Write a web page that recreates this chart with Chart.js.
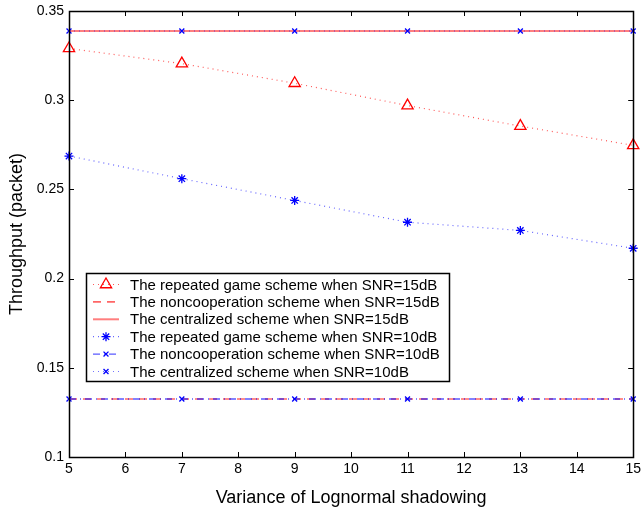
<!DOCTYPE html>
<html>
<head>
<meta charset="utf-8">
<script src="https://cdn.jsdelivr.net/npm/chart.js@4/dist/chart.umd.min.js"></script>
<style>
  html, body { margin: 0; padding: 0; background: #fff; }
  #wrap { width: 641px; height: 509px; }
</style>
</head>
<body>
<div id="wrap"><canvas id="thr" width="641" height="509"></canvas></div>
<script>
// variance values on x axis
const variance = [5, 7, 9, 11, 13, 15];

// SNR = 15dB
const repeated15 = [0.329, 0.3205, 0.3095, 0.297, 0.2855, 0.2747];
const noncoop15 = [0.1325, 0.1325, 0.1325, 0.1325, 0.1325, 0.1325];
const central15 = [0.3388, 0.3388, 0.3388, 0.3388, 0.3388, 0.3388];

// SNR = 10dB
const repeated10 = [0.2687, 0.256, 0.2438, 0.2316, 0.227, 0.217];
const noncoop10 = [0.1325, 0.1325, 0.1325, 0.1325, 0.1325, 0.1325];
const central10 = [0.3388, 0.3388, 0.3388, 0.3388, 0.3388, 0.3388];

const yTicks = [0.1, 0.15, 0.2, 0.25, 0.3, 0.35];
const xTicks = [5, 6, 7, 8, 9, 10, 11, 12, 13, 14, 15];

const legendLabels = [
  'The repeated game scheme when SNR=15dB',
  'The noncooperation scheme when SNR=15dB',
  'The centralized scheme when SNR=15dB',
  'The repeated game scheme when SNR=10dB',
  'The noncooperation scheme when SNR=10dB',
  'The centralized scheme when SNR=10dB'
];

const RED = 'rgb(255,0,0)';
const BLUE = 'rgb(0,0,255)';
const FONT = 'Liberation Sans, Arial, sans-serif';

function pts(arr) {
  return arr.map((v, i) => ({ x: variance[i], y: v }));
}

function series(label, data, color, lineColor, dash, width, style, radius, order) {
  return {
    label: label,
    data: pts(data),
    borderColor: lineColor,
    borderDash: dash,
    borderWidth: width,
    pointStyle: style,
    pointRadius: radius,
    pointBorderColor: color,
    pointBackgroundColor: style === 'triangle' ? 'rgba(255,255,255,0)' : color,
    pointBorderWidth: 1.3,
    fill: false,
    tension: 0,
    clip: 8,
    order: order
  };
}

const datasets = [
  series(legendLabels[0], repeated15, RED, 'rgba(255,0,0,0.65)', [1, 4], 1.2, 'triangle', 6.5, 1),
  series(legendLabels[1], noncoop15, RED, 'rgba(255,0,0,0.6)', [8, 6], 1.6, false, 0, 2),
  series(legendLabels[2], central15, RED, 'rgba(255,40,40,0.6)', [], 2, false, 0, 2),
  series(legendLabels[3], repeated10, BLUE, 'rgba(0,0,255,0.6)', [1, 4], 1.2, 'star', 4.5, 0),
  series(legendLabels[4], noncoop10, BLUE, 'rgba(0,0,255,0.65)', [7, 4, 1, 4], 1.4, 'crossRot', 3.5, 0),
  series(legendLabels[5], central10, BLUE, 'rgba(0,0,255,0.55)', [1, 4], 1.2, 'crossRot', 3.5, 0)
];

// draws the box, inward ticks and the legend inside the plot
const matlabFrame = {
  id: 'matlabFrame',
  afterDraw(chart) {
    const ctx = chart.ctx;
    const a = chart.chartArea;
    const xs = chart.scales.x;
    const ys = chart.scales.y;
    ctx.save();
    ctx.strokeStyle = '#000';
    ctx.lineWidth = 1;
    xTicks.forEach(t => {
      const px = Math.round(xs.getPixelForValue(t)) + 0.5;
      ctx.beginPath();
      ctx.moveTo(px, a.bottom); ctx.lineTo(px, a.bottom - 5);
      ctx.moveTo(px, a.top); ctx.lineTo(px, a.top + 5);
      ctx.stroke();
    });
    yTicks.forEach(t => {
      const py = Math.round(ys.getPixelForValue(t)) + 0.5;
      ctx.beginPath();
      ctx.moveTo(a.left, py); ctx.lineTo(a.left + 5, py);
      ctx.moveTo(a.right, py); ctx.lineTo(a.right - 5, py);
      ctx.stroke();
    });
    ctx.lineWidth = 1.5;
    ctx.strokeRect(Math.round(a.left) + 0.5, Math.round(a.top) + 0.5,
      Math.round(a.right - a.left), Math.round(a.bottom - a.top));

    // legend
    const bx = 86.5, by = 273.5, bw = 363, bh = 108;
    ctx.fillStyle = '#fff';
    ctx.fillRect(bx, by, bw, bh);
    ctx.lineWidth = 1.5;
    ctx.strokeStyle = '#000';
    ctx.strokeRect(bx, by, bw, bh);
    ctx.font = '15px ' + FONT;
    ctx.textBaseline = 'middle';
    chart.data.datasets.forEach((ds, i) => {
      const cy = 284.5 + i * 17.4;
      ctx.save();
      ctx.strokeStyle = ds.borderColor;
      ctx.lineWidth = ds.borderWidth;
      ctx.setLineDash(ds.borderDash);
      ctx.beginPath();
      ctx.moveTo(93, cy); ctx.lineTo(119, cy);
      ctx.stroke();
      ctx.restore();
      if (ds.pointStyle) {
        ctx.save();
        ctx.strokeStyle = ds.pointBorderColor;
        ctx.fillStyle = ds.pointBackgroundColor;
        ctx.lineWidth = ds.pointBorderWidth;
        Chart.helpers.drawPoint(ctx, {
          pointStyle: ds.pointStyle,
          radius: ds.pointRadius,
          borderWidth: ds.pointBorderWidth,
          rotation: 0
        }, 106, cy);
        ctx.restore();
      }
      ctx.fillStyle = '#000';
      ctx.fillText(ds.label, 130, cy + 1);
    });
    ctx.restore();
  }
};

new Chart(document.getElementById('thr'), {
  type: 'line',
  data: { datasets: datasets },
  options: {
    responsive: false,
    animation: false,
    layout: { padding: { top: 11, right: 7, left: 0, bottom: 0 } },
    plugins: {
      legend: { display: false },
      tooltip: { enabled: false }
    },
    scales: {
      x: {
        type: 'linear',
        min: 5,
        max: 15,
        afterBuildTicks: s => { s.ticks = xTicks.map(v => ({ value: v })); },
        afterFit: s => { s.height = 52; s.paddingLeft = 0; s.paddingRight = 0; },
        grid: { display: false, drawTicks: false },
        border: { display: false },
        ticks: { color: '#000', font: { family: FONT, size: 14 }, padding: 4, maxRotation: 0 },
        title: {
          display: true,
          text: 'Variance of Lognormal shadowing',
          color: '#000',
          font: { family: FONT, size: 18 },
          padding: { top: 3, bottom: 0 }
        }
      },
      y: {
        min: 0.1,
        max: 0.35,
        afterBuildTicks: s => { s.ticks = yTicks.map(v => ({ value: v })); },
        afterFit: s => { s.width = 69; s.paddingTop = 0; s.paddingBottom = 0; },
        grid: { display: false, drawTicks: false },
        border: { display: false },
        ticks: {
          color: '#000',
          font: { family: FONT, size: 14 },
          padding: 5,
          callback: v => String(Number(v.toFixed(2)))
        },
        title: {
          display: true,
          text: 'Throughput (packet)',
          color: '#000',
          font: { family: FONT, size: 18 },
          padding: { top: 6, bottom: 0 }
        }
      }
    }
  },
  plugins: [matlabFrame]
});
</script>
</body>
</html>
